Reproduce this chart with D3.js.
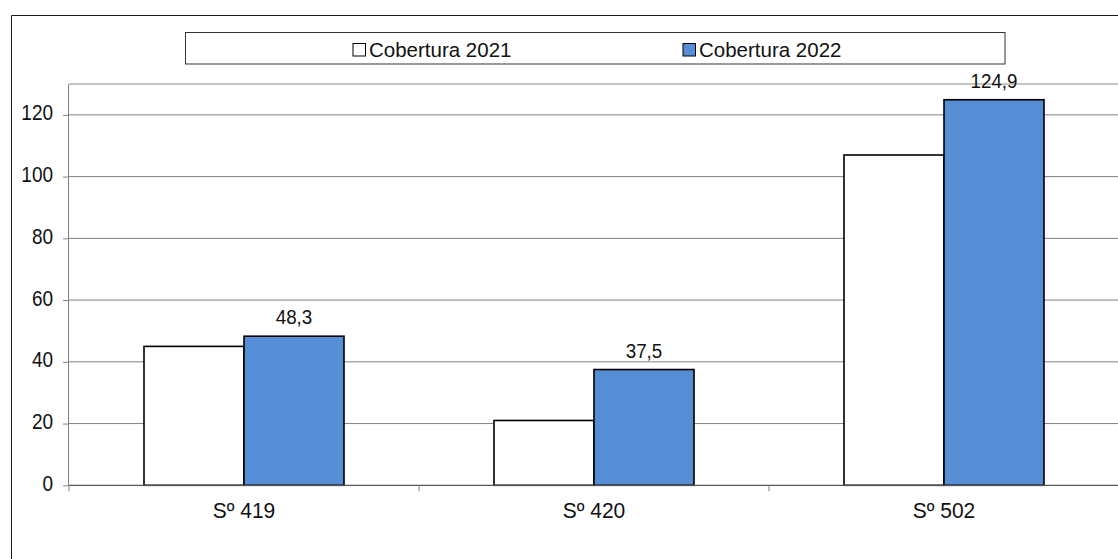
<!DOCTYPE html>
<html>
<head>
<meta charset="utf-8">
<script src="https://cdn.jsdelivr.net/npm/d3@7"></script>
<style>
  html, body { margin: 0; padding: 0; background: #fff; }
  svg { display: block; font-family: "Liberation Sans", Arial, sans-serif; }
</style>
</head>
<body>
<svg id="chart" width="1118" height="559"></svg>
<script>
// Coverage per sector, 2021 vs 2022
const categories = ["Sº 419", "Sº 420", "Sº 502"];
const seriesNames = ["Cobertura 2021", "Cobertura 2022"];
const cobertura2021 = [45, 21, 107];
const cobertura2022 = [48.3, 37.5, 124.9];
const yTicks = [0, 20, 40, 60, 80, 100, 120];
const seriesColors = ["#ffffff", "#558ed5"];

const svg = d3.select("#chart");
const W = 1118, H = 559;

const plot = { left: 69, right: 1119, top: 84, bottom: 485.3 };

// Outer frame
svg.append("path")
  .attr("d", `M11.5,${H} V15.5 H${W}`)
  .attr("fill", "none").attr("stroke", "#1a1a1a").attr("stroke-width", 1);

const y = d3.scaleLinear().domain([0, 130]).range([plot.bottom, plot.top]);
const x0 = d3.scaleBand().domain(categories).range([plot.left, plot.right])
  .paddingInner(150 / 350).paddingOuter(75 / 350);
const x1 = d3.scaleBand().domain(seriesNames).range([0, x0.bandwidth()]).padding(0);

// Plot area top edge
svg.append("line")
  .attr("x1", plot.left).attr("x2", plot.right)
  .attr("y1", plot.top).attr("y2", plot.top)
  .attr("stroke", "#8c8c8c").attr("stroke-width", 1);

// Gridlines
svg.append("g").selectAll("line").data(yTicks.filter(d => d > 0)).join("line")
  .attr("x1", plot.left).attr("x2", plot.right)
  .attr("y1", d => y(d)).attr("y2", d => y(d))
  .attr("stroke", "#808080").attr("stroke-width", 1);

// Y axis
const yAxis = d3.axisLeft(y).tickValues(yTicks).tickSize(6).tickPadding(10).tickFormat(d3.format("d"));
const gy = svg.append("g").attr("transform", `translate(${plot.left},0)`).call(yAxis);
gy.select(".domain").attr("stroke", "#808080").attr("d", `M-0.5,${plot.top}V${plot.bottom}`);
gy.selectAll(".tick line").attr("stroke", "#808080");
gy.selectAll(".tick text").attr("font-size", 19).attr("fill", "#111")
  .attr("font-family", "Liberation Sans, Arial, sans-serif").attr("dy", "0.24em")
  .attr("transform", "scale(1,1.12)");

// Bars
const rows = categories.map((c, i) => ({ cat: c, vals: [cobertura2021[i], cobertura2022[i]] }));
const groups = svg.append("g").selectAll("g").data(rows).join("g")
  .attr("transform", d => `translate(${x0(d.cat)},0)`);
groups.selectAll("rect").data(d => d.vals.map((v, j) => ({ v, s: seriesNames[j], j }))).join("rect")
  .attr("x", d => x1(d.s))
  .attr("y", d => y(d.v))
  .attr("width", x1.bandwidth())
  .attr("height", d => y(0) - y(d.v))
  .attr("fill", d => seriesColors[d.j])
  .attr("stroke", "#000").attr("stroke-width", 1.6);

// Value labels on 2022 bars
groups.append("text")
  .attr("transform", d => `translate(${x1(seriesNames[1]) + x1.bandwidth() / 2},${y(d.vals[1]) - 12}) scale(1,1.06)`)
  .attr("text-anchor", "middle")
  .attr("font-size", 18.8).attr("fill", "#111")
  .text(d => d3.format(".1f")(d.vals[1]).replace(".", ","));

// X axis
const gx = svg.append("g").attr("transform", `translate(0,${plot.bottom})`);
gx.append("line").attr("x1", plot.left).attr("x2", plot.right).attr("y1", 0).attr("y2", 0)
  .attr("stroke", "#555").attr("stroke-width", 1.2);
const boundaries = [plot.left].concat(categories.map(c => x0(c) - x0.step() * x0.paddingOuter() + x0.step()));
gx.selectAll("line.tk").data(boundaries).join("line").attr("class", "tk")
  .attr("x1", d => d).attr("x2", d => d).attr("y1", 0).attr("y2", 6)
  .attr("stroke", "#808080");
gx.selectAll("text").data(categories).join("text")
  .attr("transform", d => `translate(${x0(d) + x0.bandwidth() / 2},32.4) scale(1,1.07)`)
  .attr("text-anchor", "middle")
  .attr("font-size", 21).attr("fill", "#111")
  .text(d => d);

// Legend
const legend = svg.append("g");
legend.append("rect").attr("x", 185.5).attr("y", 32.5).attr("width", 819.5).attr("height", 31.5)
  .attr("fill", "#fff").attr("stroke", "#333").attr("stroke-width", 1);
const legendX = [353, 683];
seriesNames.forEach((s, i) => {
  legend.append("rect").attr("x", legendX[i]).attr("y", 43.5).attr("width", 12.5).attr("height", 12.5)
    .attr("fill", seriesColors[i]).attr("stroke", "#000").attr("stroke-width", 1);
  legend.append("text").attr("x", legendX[i] + 16).attr("y", 57)
    .attr("font-size", 20.5).attr("fill", "#111").text(s);
});
</script>
</body>
</html>
